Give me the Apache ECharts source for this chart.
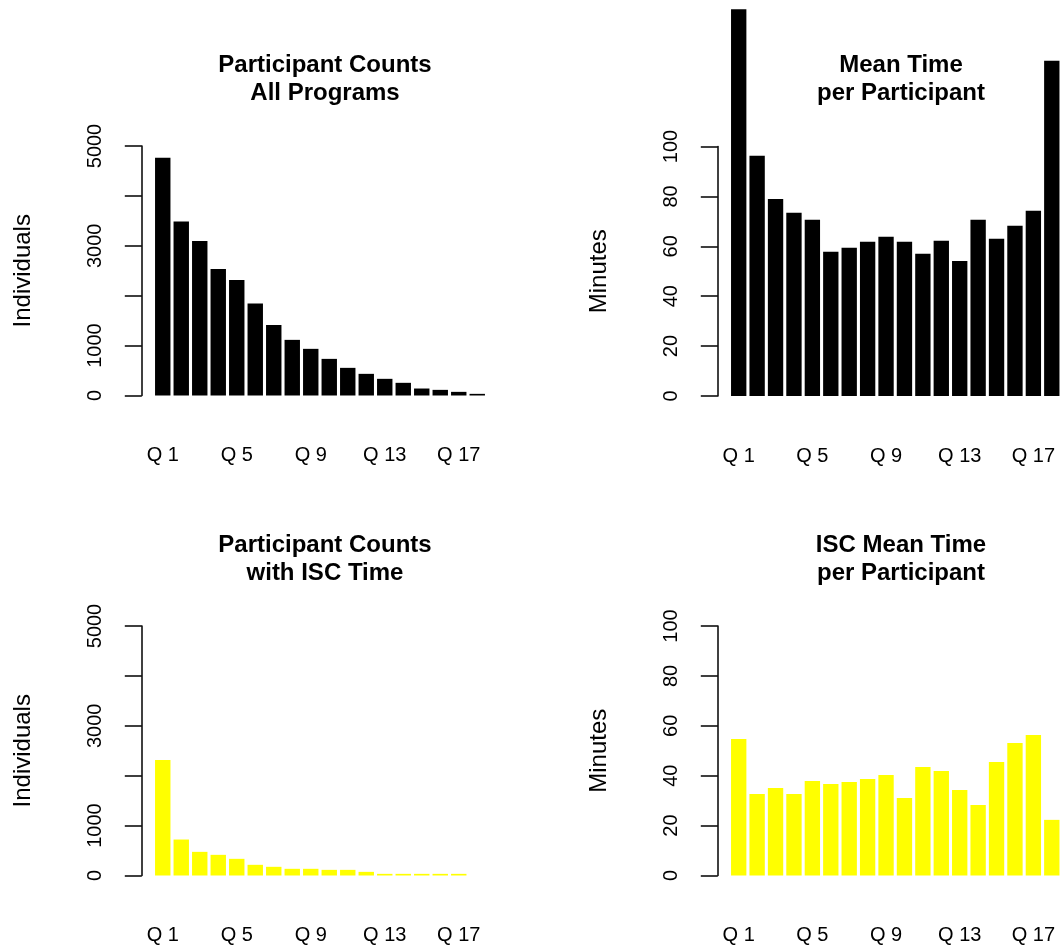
<!DOCTYPE html>
<html>
<head>
<meta charset="utf-8">
<script src="https://cdn.jsdelivr.net/npm/echarts@6/dist/echarts.min.js"></script>
<style>
html,body{margin:0;padding:0;background:#fff;}
#chart{width:1061px;height:948px;}
</style>
</head>
<body>
<div id="chart"></div>
<script>
const categories = ['Q 1','Q 2','Q 3','Q 4','Q 5','Q 6','Q 7','Q 8','Q 9','Q 10','Q 11','Q 12','Q 13','Q 14','Q 15','Q 16','Q 17','Q 18'];
const countsAll = [4766, 3485, 3098, 2537, 2317, 1843, 1415, 1115, 935, 734, 554, 434, 334, 254, 140, 113, 73, 33];
const meanTimeAll = [155, 96.3, 79.0, 73.4, 70.6, 57.8, 59.4, 61.8, 63.8, 61.8, 57.0, 62.2, 54.1, 70.6, 63.0, 68.2, 74.2, 134.4];
const countsISC = [2317, 721, 474, 414, 334, 214, 174, 134, 134, 113, 113, 73, 33, 33, 33, 33, 33, 0];
const meanTimeISC = [54.7, 32.7, 35.1, 32.7, 37.9, 36.7, 37.5, 38.7, 40.3, 31.1, 43.5, 41.9, 34.3, 28.3, 45.5, 53.1, 56.3, 22.3];
const countTicks = [0, 1000, 3000, 5000];
const titles = ['Participant Counts\nAll Programs', 'Mean Time\nper Participant', 'Participant Counts\nwith ISC Time', 'ISC Mean Time\nper Participant'];

const FONT = '"Liberation Sans", Arial, Helvetica, sans-serif';
const chart = echarts.init(document.getElementById('chart'), null, {renderer: 'canvas'});

const panels = [
  {left: 153.5, top: 146, data: countsAll, color: '#000000', max: 5000, interval: 1000, name: 'Individuals', cx: 320, ty: 46},
  {left: 729.5, top: 146.5, data: meanTimeAll, color: '#000000', max: 100, interval: 20, name: 'Minutes', cx: 896, ty: 46},
  {left: 153.5, top: 626, data: countsISC, color: '#FFFF00', max: 5000, interval: 1000, name: 'Individuals', cx: 320, ty: 526},
  {left: 729.5, top: 626, data: meanTimeISC, color: '#FFFF00', max: 100, interval: 20, name: 'Minutes', cx: 896, ty: 526}
];

const option = {
  backgroundColor: '#ffffff',
  animation: false,
  title: panels.map((p, i) => ({
    text: titles[i], left: p.cx, top: p.ty, textAlign: 'center',
    textStyle: {fontFamily: FONT, fontWeight: 'bold', fontSize: 24, lineHeight: 28, color: '#000'}
  })),
  grid: panels.map(p => ({left: p.left, top: p.top, width: 333, height: 249.5, containLabel: false})),
  xAxis: panels.map((p, i) => ({
    type: 'category', gridIndex: i, data: categories,
    axisLine: {show: false}, axisTick: {show: false}, splitLine: {show: false},
    axisLabel: {interval: 3, margin: 50, fontFamily: FONT, fontSize: 20, color: '#000'}
  })),
  yAxis: panels.map((p, i) => ({
    type: 'value', gridIndex: i, min: 0, max: p.max, interval: p.interval, offset: 11.7,
    name: p.name, nameLocation: 'middle', nameGap: 106,
    nameTextStyle: {fontFamily: FONT, fontSize: 24, color: '#000'},
    axisLine: {show: true, lineStyle: {color: '#000', width: 1.5}},
    axisTick: {show: true, length: 17, lineStyle: {color: '#000', width: 1.5}},
    splitLine: {show: false},
    axisLabel: {
      rotate: 90, margin: 36, fontFamily: FONT, fontSize: 20, color: '#000',
      formatter: v => (p.max === 5000 ? (countTicks.indexOf(v) >= 0 ? String(v) : '') : String(v))
    }
  })),
  series: panels.map((p, i) => ({
    type: 'bar', xAxisIndex: i, yAxisIndex: i, data: p.data, clip: false,
    barCategoryGap: '16.67%', itemStyle: {color: p.color}, silent: true
  }))
};
chart.setOption(option);
</script>
</body>
</html>
